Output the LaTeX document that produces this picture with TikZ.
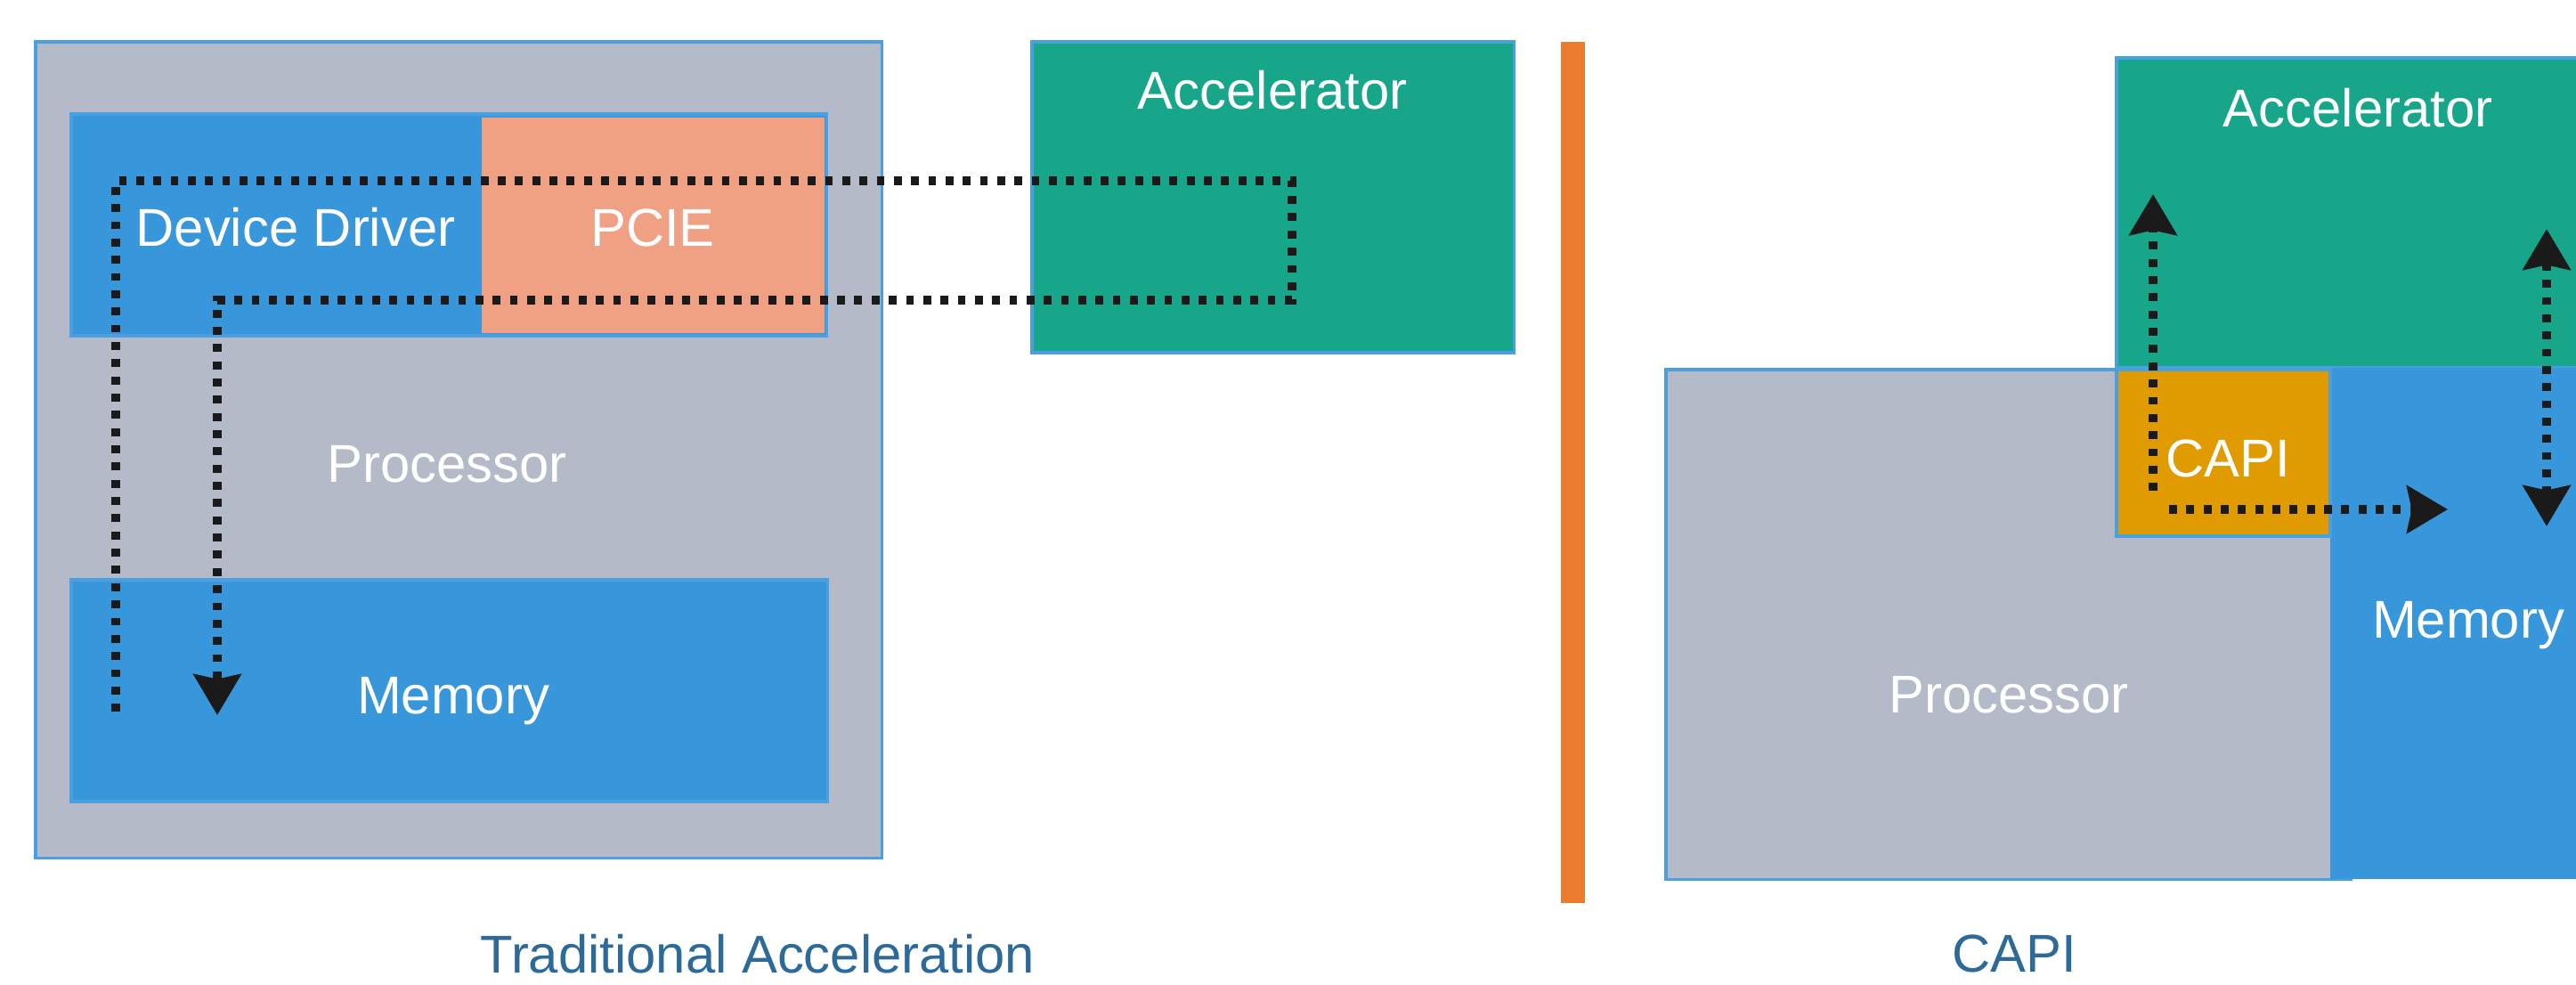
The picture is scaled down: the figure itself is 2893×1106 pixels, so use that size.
\documentclass[tikz,border=0pt]{standalone}
\usepackage{fontspec}
\setmainfont{Liberation Sans}
\usetikzlibrary{arrows.meta}
\definecolor{procgray}{RGB}{180,186,200}
\definecolor{memblue}{RGB}{55,151,218}
\definecolor{edgeblue}{RGB}{74,159,224}
\definecolor{pciecol}{RGB}{240,160,131}
\definecolor{accelcol}{RGB}{23,166,137}
\definecolor{capicol}{RGB}{224,155,0}
\definecolor{dividercol}{RGB}{235,123,47}
\definecolor{captioncol}{RGB}{45,106,152}
\definecolor{dotcol}{RGB}{26,26,26}
\begin{document}
\begin{tikzpicture}[x=0.01cm,y=-0.01cm,
  block/.style={draw=edgeblue, line width=1pt, inner sep=0pt, outer sep=0pt, anchor=north west},
  plain/.style={inner sep=0pt, outer sep=0pt, anchor=north west},
  lbl/.style={text=white, font=\fontsize{17}{20}\selectfont, inner sep=0pt, anchor=base},
  captxt/.style={text=captioncol, font=\fontsize{17}{20}\selectfont, inner sep=0pt, anchor=base},
  flow/.style={draw=dotcol, line width=3pt, dash pattern=on 2.5pt off 3pt, line join=miter},
  tipend/.style={-{Stealth[length=13pt,width=15pt,inset=1.5pt]}},
  tipboth/.style={{Stealth[length=13pt,width=15pt,inset=1.5pt]}-{Stealth[length=13pt,width=15pt,inset=1.5pt]}},
]
\useasboundingbox (0,0) rectangle (2893,1106);

% ---------- Left: traditional acceleration ----------
\node[block, fill=procgray, minimum width=9.5cm, minimum height=9.16cm] (procL) at (40,47) {};
\node[block, fill=memblue, minimum width=8.48cm, minimum height=2.49cm] (ddL) at (80,128) {};
\node[plain, fill=pciecol, minimum width=3.85cm, minimum height=2.42cm] (pcieL) at (541,132) {};
\node[block, fill=memblue, minimum width=8.49cm, minimum height=2.49cm] (memL) at (80,651) {};
\node[block, fill=accelcol, minimum width=5.41cm, minimum height=3.49cm] (accL) at (1159,47) {};

\node[lbl] (tDD) at (332,276) {Device Driver};
\node[lbl] (tPCIE) at (733,276) {PCIE};
\node[lbl] (tProcL) at (502,541) {Processor};
\node[lbl] (tMemL) at (509,801) {Memory};
\node[lbl] (tAccL) at (1429,123) {Accelerator};
\node[captxt] (capL) at (851,1092) {Traditional Acceleration};

\coordinate (a1) at (130,799);
\coordinate (a2) at (130,203);
\coordinate (a3) at (1451,203);
\coordinate (a4) at (1451,337);
\coordinate (a5) at (244,337);
\coordinate (a6) at (244,803);
\draw[flow, tipend] (a1) -- (a2) -- (a3) -- (a4) -- (a5) -- (a6);

% ---------- Divider ----------
\node[plain, fill=dividercol, minimum width=0.27cm, minimum height=9.66cm] (divider) at (1753,47) {};

% ---------- Right: CAPI ----------
\node[block, fill=procgray, minimum width=7.69cm, minimum height=5.72cm] (procR) at (1871,415) {};
\node[block, fill=accelcol, minimum width=5.3cm, minimum height=3.48cm] (accR) at (2377,65) {};
\node[plain, fill=memblue, minimum width=2.9cm, minimum height=5.74cm] (memR) at (2617,413) {};
\node[block, fill=capicol, minimum width=2.4cm, minimum height=1.87cm] (capiR) at (2377,415) {};

\node[lbl] (tAccR) at (2648,143) {Accelerator};
\node[lbl] (tCAPI) at (2502,535) {CAPI};
\node[lbl] (tMemR) at (2772,716) {Memory};
\node[lbl] (tProcR) at (2256,800) {Processor};
\node[captxt] (capR) at (2262,1091) {CAPI};

\coordinate (b1) at (2418,551);
\coordinate (b2) at (2418,218);
\draw[flow, tipend] (b1) -- (b2);
\coordinate (c1) at (2436,572);
\coordinate (c2) at (2749,572);
\draw[flow, tipend] (c1) -- (c2);
\coordinate (d1) at (2860,257);
\coordinate (d2) at (2860,591);
\draw[flow, tipboth] (d1) -- (d2);
\end{tikzpicture}
\end{document}
